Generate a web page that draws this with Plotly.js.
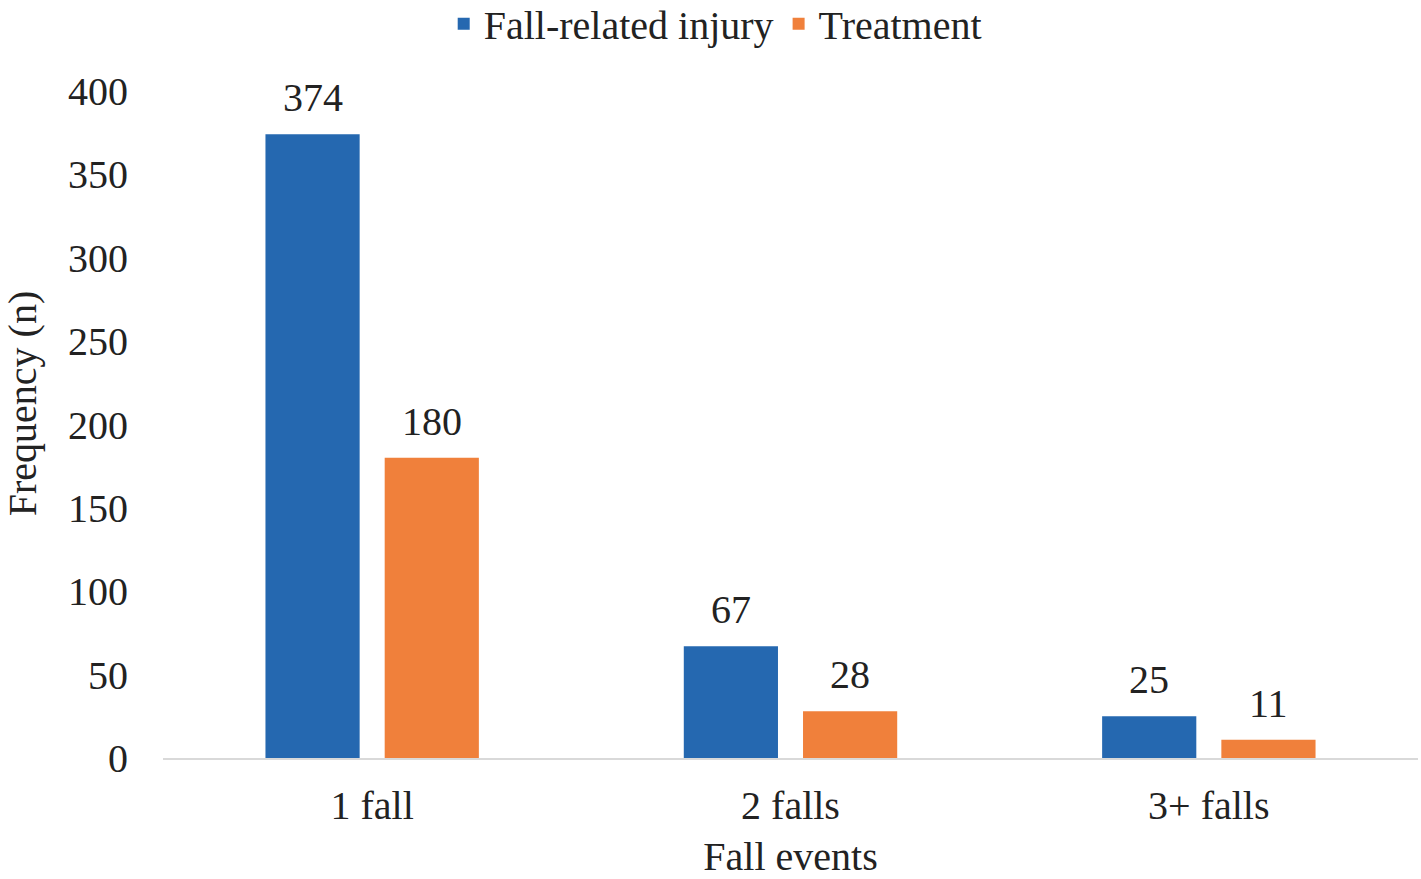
<!DOCTYPE html>
<html>
<head>
<meta charset="utf-8">
<script src="https://cdn.plot.ly/plotly-3.0.1.min.js"></script>
<style>
  html, body { margin: 0; padding: 0; background: #fff; }
  #chart { width: 1421px; height: 879px; }
</style>
</head>
<body>
<div id="chart"></div>
<script>
const categories = ["1 fall", "2 falls", "3+ falls"];
const injuryValues = [374, 67, 25];
const treatmentValues = [180, 28, 11];

const serif = "Liberation Serif, Times New Roman, serif";
const textColor = "#222";

const injury = {
  x: categories,
  y: injuryValues,
  name: "Fall-related injury",
  type: "bar",
  marker: { color: "#2568b0" }
};

const treatment = {
  x: categories,
  y: treatmentValues,
  name: "Treatment",
  type: "bar",
  marker: { color: "#f0803b" }
};

// value labels sit a little higher than plotly's own outside text
function valueLabels(values, shift) {
  return values.map((v, i) => ({
    x: categories[i],
    y: v,
    xref: "x",
    yref: "y",
    text: String(v),
    showarrow: false,
    xshift: shift,
    yshift: 12,
    yanchor: "bottom",
    font: { family: serif, size: 40, color: textColor }
  }));
}

// y title is drawn as an annotation so it can sit a bit above the middle like the original
const yTitle = {
  text: "Frequency (n)",
  xref: "paper",
  yref: "paper",
  x: -0.112,
  y: 0.531,
  xanchor: "center",
  yanchor: "middle",
  textangle: -90,
  showarrow: false,
  font: { family: serif, size: 40, color: textColor }
};

const layout = {
  width: 1421,
  height: 879,
  margin: { l: 163, r: 3, t: 91, b: 121 },
  font: { family: serif, size: 40, color: textColor },
  paper_bgcolor: "#fff",
  plot_bgcolor: "#fff",
  barmode: "group",
  bargap: 0.43,
  bargroupgap: 0.21,
  showlegend: true,
  legend: {
    orientation: "h",
    x: 0.44,
    xanchor: "center",
    yref: "container",
    y: 0.973,
    yanchor: "middle",
    font: { family: serif, size: 40 },
    itemwidth: 30
  },
  annotations: valueLabels(injuryValues, -59.5)
    .concat(valueLabels(treatmentValues, 59.5))
    .concat([yTitle]),
  xaxis: {
    showline: true,
    linecolor: "#d9d9d9",
    linewidth: 2,
    ticks: "",
    showgrid: false,
    ticklabelstandoff: 11,
    title: { text: "Fall events", standoff: 18, font: { size: 40 } }
  },
  yaxis: {
    range: [0, 400],
    dtick: 50,
    showline: false,
    showgrid: false,
    zeroline: false,
    ticks: "",
    ticklabelstandoff: 34
  }
};

Plotly.newPlot("chart", [injury, treatment], layout, { staticPlot: true });
</script>
</body>
</html>
